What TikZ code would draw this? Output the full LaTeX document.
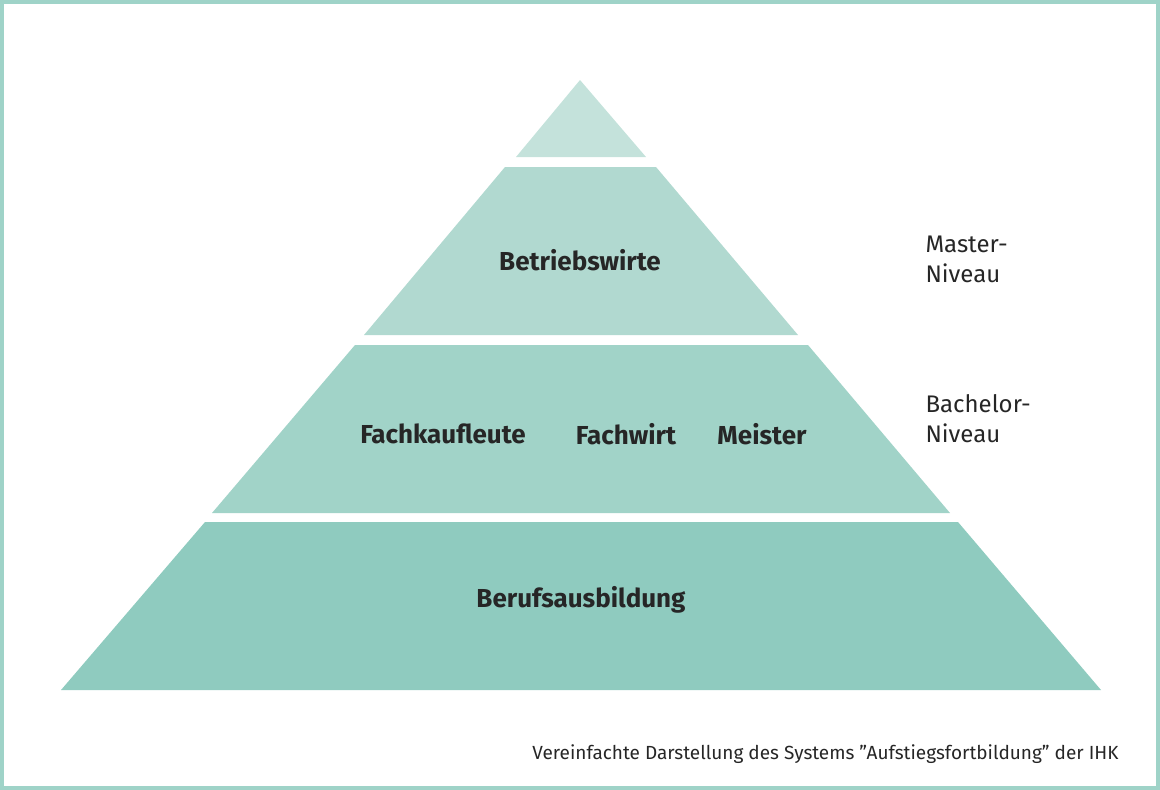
\documentclass[tikz,border=0pt]{standalone}
\usepackage{fontspec}
\setmainfont{Fira Sans}
\usepackage{tikz}
\definecolor{frame}{HTML}{9FD3C8}
\definecolor{tierA}{HTML}{C4E2DB}
\definecolor{tierB}{HTML}{B1D9D0}
\definecolor{tierC}{HTML}{A1D3C8}
\definecolor{tierD}{HTML}{8FCBBF}
\tikzset{
	tier/.style={fill=#1, draw=none},
	tierlabel/.style={font=\fontsize{26}{30}\selectfont\bfseries, text=black!85},
	sidelabel/.style={font=\fontsize{24}{30}\selectfont, text=black!85, align=left, anchor=west},
}
\begin{document}
\begin{tikzpicture}[x=1pt, y=-1pt]
\useasboundingbox (0,0) rectangle (1160,790);
\draw[frame, line width=4pt] (2,2) rectangle (1158,788);

	% Stufen der Pyramide
	\fill[tier=tierA] (580,80) -- (646,157) -- (516,157) -- cycle;
	\fill[tier=tierB] (505,167) -- (656,167) -- (798,335) -- (364,335) -- cycle;
	\fill[tier=tierC] (355,345) -- (808,345) -- (950,513) -- (212,513) -- cycle;
	\fill[tier=tierD] (205,522) -- (958,522) -- (1101,690) -- (61,690) -- cycle;

	\node[tierlabel] (bw) at (580,260) {Betriebswirte};
	\node[tierlabel] (fk) at (443,434) {Fachkaufleute};
	\node[tierlabel] (fw) at (626,434) {Fachwirt};
	\node[tierlabel] (me) at (762,434) {Meister};
	\node[tierlabel] (ba) at (581,600) {Berufsausbildung};

	\node[sidelabel] (master) at (922,259) {Master-\\Niveau};
	\node[sidelabel] (bachelor) at (922,419) {Bachelor-\\Niveau};

	\node[font=\fontsize{19}{22}\selectfont, text=black!85, anchor=east] (quelle) at (1122,754)
		{Vereinfachte Darstellung des Systems "Aufstiegsfortbildung" der IHK};
\end{tikzpicture}
\end{document}
